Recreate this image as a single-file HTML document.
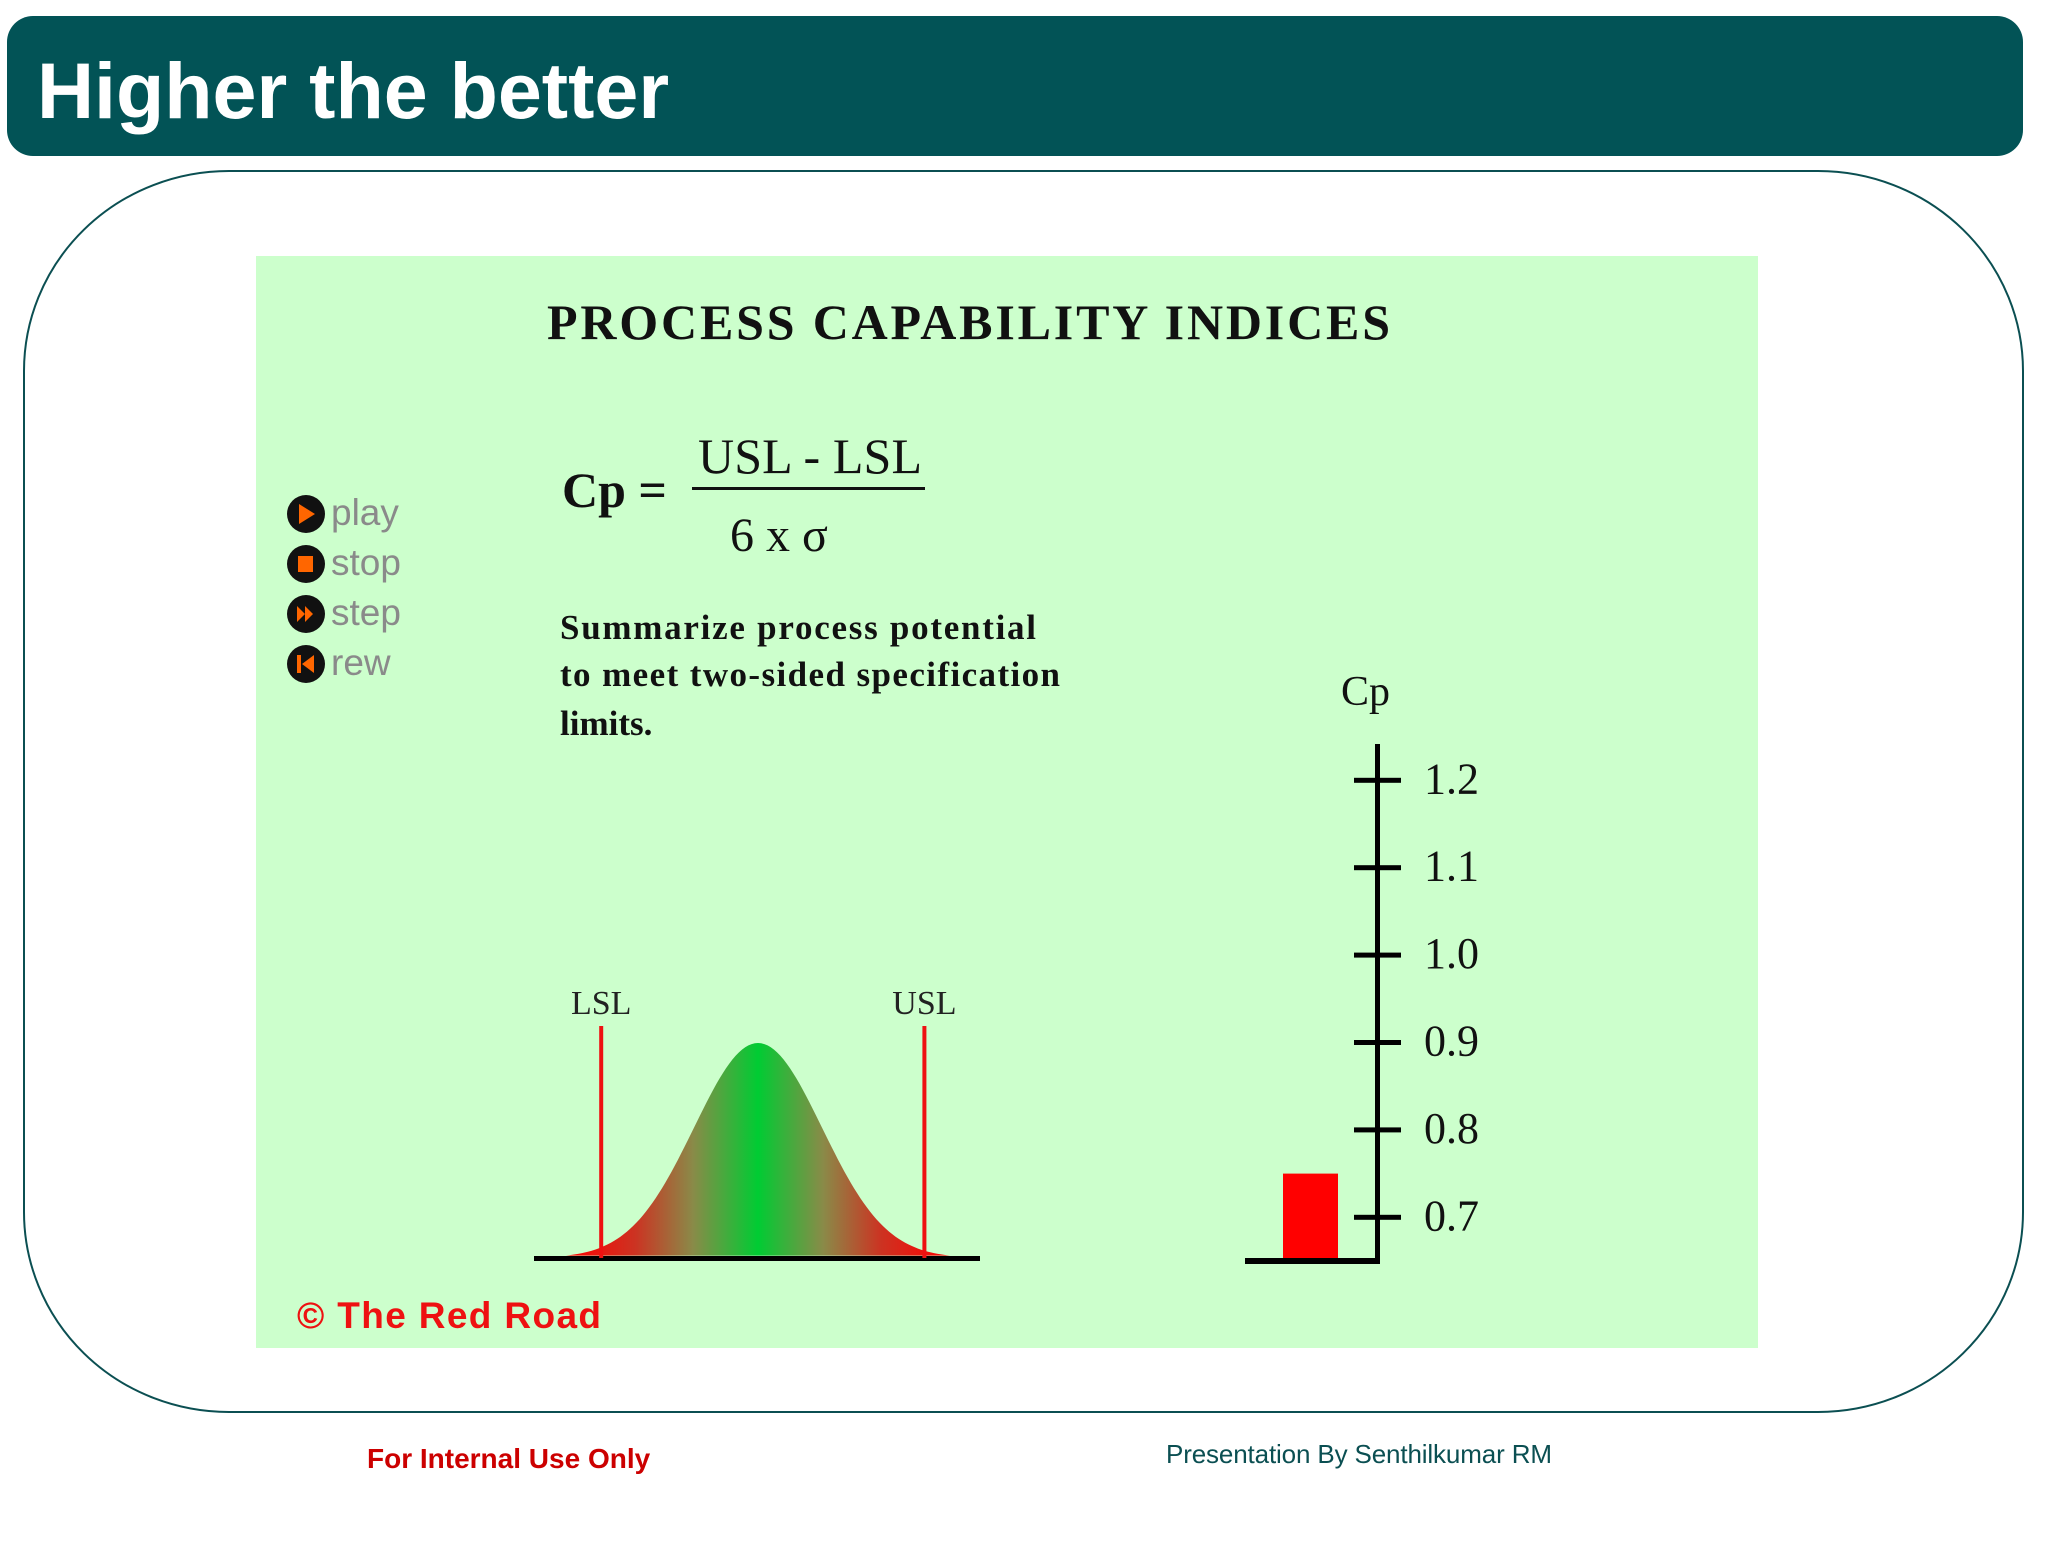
<!DOCTYPE html>
<html><head><meta charset="utf-8"><style>
html,body{margin:0;padding:0;background:#fff;}
body{width:2048px;height:1536px;position:relative;overflow:hidden;font-family:"Liberation Sans",sans-serif;}
</style></head><body>
<svg width="2048" height="1536" viewBox="0 0 2048 1536" xmlns="http://www.w3.org/2000/svg">
<defs>
<linearGradient id="bellGrad" x1="0" x2="1" y1="0" y2="0" gradientUnits="objectBoundingBox">
<stop offset="0" stop-color="#ff0000"/>
<stop offset="0.18" stop-color="#cc3322"/>
<stop offset="0.33" stop-color="#8a8a48"/>
<stop offset="0.5" stop-color="#00cc33"/>
<stop offset="0.67" stop-color="#8a8a48"/>
<stop offset="0.82" stop-color="#cc3322"/>
<stop offset="1" stop-color="#ff0000"/>
</linearGradient>
</defs>
<rect x="7" y="16" width="2016" height="140" rx="26" fill="#025356"/>
<text x="37" y="118" font-family="Liberation Sans, sans-serif" font-weight="bold" font-size="79" fill="#fff">Higher the better</text>
<rect x="24" y="171" width="1999" height="1241" rx="205" ry="200" fill="#fff" stroke="#0b4f52" stroke-width="2"/>
<rect x="256" y="256" width="1502" height="1092" fill="#ccffcc"/>
<text x="547" y="339" font-family="Liberation Serif, serif" font-weight="bold" font-size="50" textLength="843" fill="#111">PROCESS CAPABILITY INDICES</text>
<text x="562" y="507" font-family="Liberation Serif, serif" font-weight="bold" font-size="50" fill="#111">Cp =</text>
<text x="698" y="473" font-family="Liberation Serif, serif" font-size="50" textLength="224" fill="#111">USL - LSL</text>
<rect x="692" y="487" width="233" height="3" fill="#111"/>
<text x="730" y="551" font-family="Liberation Serif, serif" font-size="48" fill="#111">6 x σ</text>
<g font-family="Liberation Serif, serif" font-weight="bold" font-size="35" fill="#111">
<text x="560" y="639" textLength="476">Summarize process potential</text>
<text x="560" y="686" textLength="500">to meet two-sided specification</text>
<text x="560" y="735">limits.</text>
</g>
<g font-family="Liberation Sans, sans-serif" font-size="37" fill="#8a8a8a">
<g><circle cx="306" cy="514" r="19" fill="#111"/><polygon points="299,504 299,524 315,514" fill="#ff6600"/><text x="331" y="525">play</text></g>
<g><circle cx="306" cy="564" r="19" fill="#111"/><rect x="298" y="556" width="15" height="16" fill="#ff6600"/><text x="331" y="575">stop</text></g>
<g><circle cx="306" cy="614" r="19" fill="#111"/><polygon points="297,606 297,622 305,614" fill="#ff6600"/><polygon points="305,606 305,622 313,614" fill="#ff6600"/><text x="331" y="625">step</text></g>
<g><circle cx="306" cy="664" r="19" fill="#111"/><rect x="297" y="655" width="4" height="18" fill="#ff6600"/><polygon points="314,655 314,673 302,664" fill="#ff6600"/><text x="331" y="675">rew</text></g>
</g>
<g id="bell"></g>
<g id="cpchart"></g>
<text x="297" y="1328" font-family="Liberation Sans, sans-serif" font-weight="bold" font-size="37" fill="#ee1111" textLength="304">© The Red Road</text>
<text x="367" y="1468" font-family="Liberation Sans, sans-serif" font-weight="bold" font-size="28" fill="#cc0000">For Internal Use Only</text>
<text x="1166" y="1463" font-family="Liberation Sans, sans-serif" font-size="26" fill="#0b4f52" textLength="386">Presentation By Senthilkumar RM</text>
</svg>
<script>
// Distribution data
const specLabels = ["LSL", "USL"];
const specValues = [-2.45, 2.6];
const processMean = [0];
const processSigma = [1];
// Cp gauge data
const cpTicks = [0.7, 0.8, 0.9, 1.0, 1.1, 1.2];
const cpTickLabels = ["0.7", "0.8", "0.9", "1.0", "1.1", "1.2"];
const cpValue = [0.75];

const NS = "http://www.w3.org/2000/svg";
function mk(tag, attrs, parent){const e=document.createElementNS(NS,tag);for(const k in attrs)e.setAttribute(k,attrs[k]);parent.appendChild(e);return e;}

// bell chart axes
const bell = document.getElementById('bell');
const bx = v => 758 + v * 64;
const by = d => 1258 - d * 215;
let pts = [];
for (let i = -3; i <= 3.0001; i += 0.05) {
  const z = (i - processMean[0]) / processSigma[0];
  pts.push(bx(i).toFixed(1) + "," + by(Math.exp(-z*z/2)).toFixed(1));
}
const curve = mk('path', {d: "M" + pts.join(" L") + " Z", fill: "url(#bellGrad)"}, bell);


const base = mk('rect', {x: 534, y: 1256, width: 446, height: 5, fill: "#000"}, bell);


specValues.forEach((v, i) => {
  const ln = mk('rect', {x: bx(v) - 2, y: 1026, width: 4, height: 232, fill: "#ee1111"}, bell);
  
  
  const t = mk('text', {x: bx(v), y: 1014, "text-anchor": "middle", "font-family": "Liberation Serif, serif", "font-size": "34", fill: "#222"}, bell);
  t.textContent = specLabels[i];
  
  
});

// Cp gauge axes
const cp = document.getElementById('cpchart');
const yMin = 0.65, yPerUnit = 874;
const cy = v => 1261 - (v - yMin) * yPerUnit;
const bar = mk('rect', {x: 1283, y: cy(cpValue[0]), width: 55, height: cy(yMin) - cy(cpValue[0]), fill: "#ff0000"}, cp);


const ax = mk('rect', {x: 1375, y: 744, width: 5, height: 520, fill: "#000"}, cp);


const bl = mk('rect', {x: 1245, y: 1258, width: 135, height: 6, fill: "#000"}, cp);


cpTicks.forEach((v, i) => {
  const tk = mk('rect', {x: 1354, y: cy(v) - 2.5, width: 47, height: 5, fill: "#000"}, cp);
  
  
  const t = mk('text', {x: 1424, y: cy(v) + 13, "font-family": "Liberation Serif, serif", "font-size": "44", fill: "#111"}, cp);
  t.textContent = cpTickLabels[i];
  
  
});
const cpl = mk('text', {x: 1341, y: 705, "font-family": "Liberation Serif, serif", "font-size": "42", fill: "#111"}, cp);
cpl.textContent = "Cp";


</script>
</body></html>
